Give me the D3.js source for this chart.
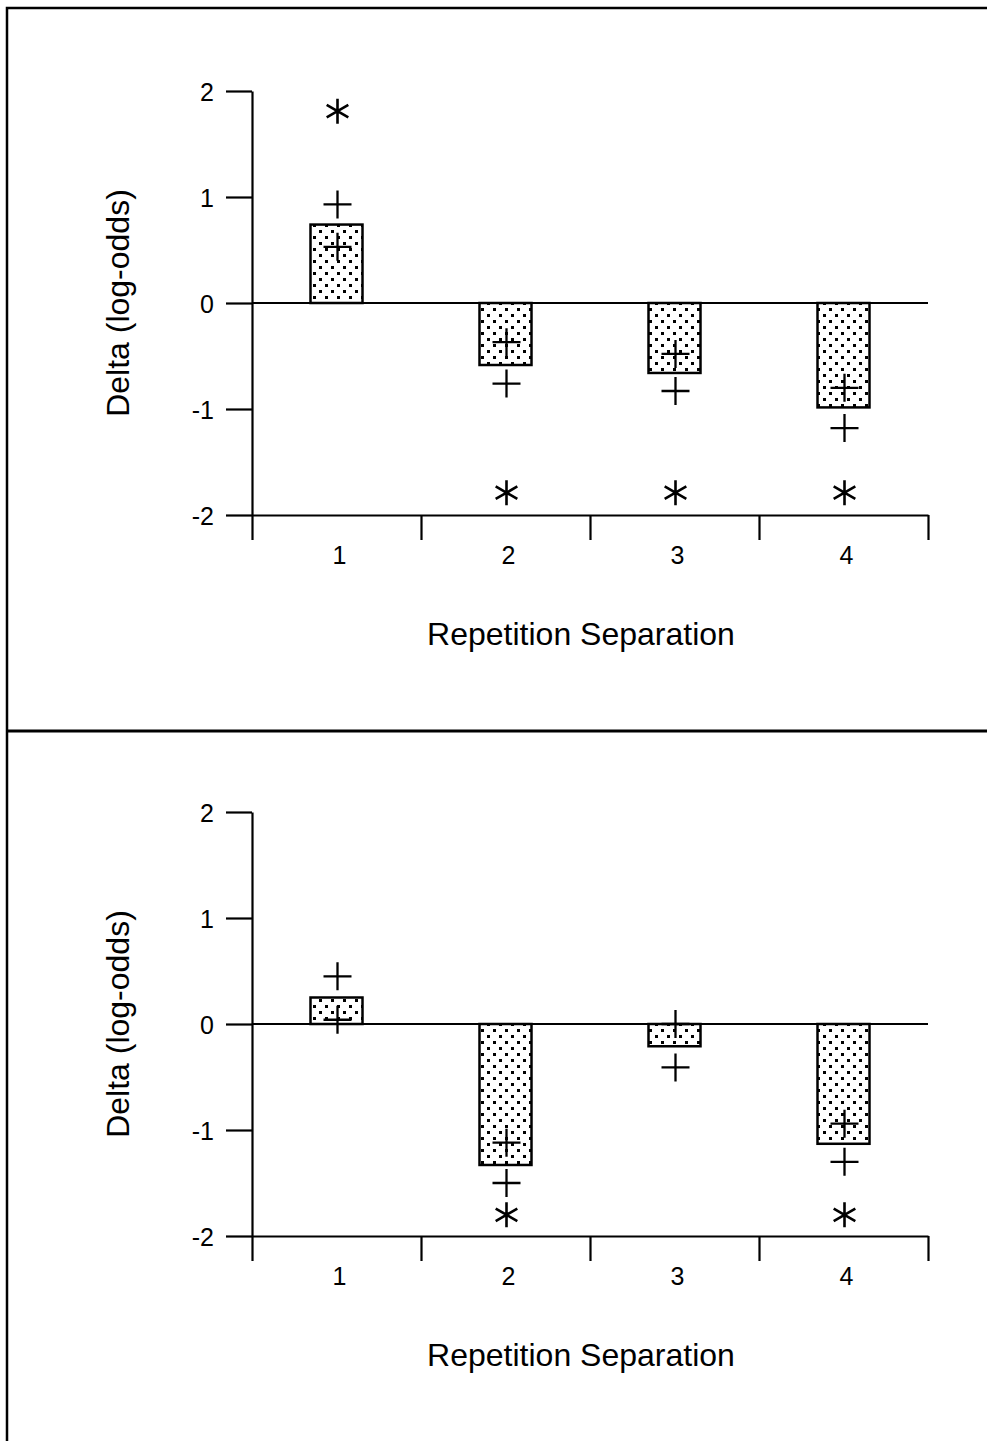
<!DOCTYPE html>
<meta charset="utf-8">
<style>
body { margin: 0; background: #fff; }
text { font-family: "Liberation Sans", Arial, sans-serif; fill: #000; }
.axis path, .axis line { stroke: #000; stroke-width: 2.2px; }
.title { font-size: 32px; }
.bar { fill: url(#dots); stroke: #000; stroke-width: 2.5px; }
.mark { fill: none; stroke: #000; stroke-width: 2.3px; }
.frame { stroke: #000; fill: none; }
</style>
<body>
<script src="https://d3js.org/d3.v7.min.js"></script>
<script>

var categories = [1, 2, 3, 4],
    yTicks = [-2, -1, 0, 1, 2],
    boundaries = [0.5, 1.5, 2.5, 3.5, 4.5];

// top panel
var topBars = [0.74, -0.585, -0.66, -0.985],
    topPlusA = [0.93, -0.37, -0.48, -0.80],
    topPlusB = [0.53, -0.76, -0.83, -1.18],
    topStar = [1.81, -1.79, -1.79, -1.79];

// bottom panel
var botBars = [0.25, -1.33, -0.21, -1.13],
    botPlusA = [0.45, -1.12, 0.0, -0.94],
    botPlusB = [0.04, -1.50, -0.41, -1.30],
    botStar = [null, -1.80, null, -1.80];

var width = 987,
    height = 1441;

var svg = d3.select("body").append("svg")
    .attr("width", width)
    .attr("height", height);

var pat = svg.append("defs").append("pattern")
    .attr("id", "dots")
    .attr("patternUnits", "userSpaceOnUse")
    .attr("width", 12)
    .attr("height", 12);
pat.append("rect").attr("width", 12).attr("height", 12).attr("fill", "#fff");
[[1, 1], [7, 7]].forEach(function(p) {
  pat.append("rect").attr("x", p[0]).attr("y", p[1]).attr("width", 3).attr("height", 3).attr("fill", "#000");
});

// outer frame
svg.append("path").attr("class", "frame").style("stroke-width", 2.5)
    .attr("d", "M7,1441V8H987");
svg.append("line").attr("class", "frame").style("stroke-width", 3)
    .attr("x1", 7).attr("x2", 987).attr("y1", 731).attr("y2", 731);

var x = d3.scaleLinear().domain([0.5, 4.5]).range([252, 928]);
var y = d3.scaleLinear().domain([-2, 2]).range([424, 0]);

var plusPath = "M-14,0H14M0,-14V14";
var starPath = (function() {
  var r = 12.5, s = "";
  [90, 30, 150].forEach(function(a) {
    var dx = r * Math.cos(a * Math.PI / 180), dy = r * Math.sin(a * Math.PI / 180);
    s += "M" + (-dx) + "," + (-dy) + "L" + dx + "," + dy;
  });
  return s;
})();

function panel(offset, bars, plusA, plusB, star) {
  var g = svg.append("g").attr("transform", "translate(0," + offset + ")");

  g.append("g")
      .attr("class", "axis")
      .attr("transform", "translate(252,0)")
      .call(d3.axisLeft(y).tickValues(yTicks).tickSize(26).tickSizeOuter(0).tickPadding(12)
        .tickFormat(function(d) { return String(d); }))
      .call(function(a) {
        a.attr("font-size", 25).attr("font-family", null);
        a.selectAll("text").attr("dy", "0.36em");
      });

  var xa = g.append("g")
      .attr("class", "axis")
      .attr("transform", "translate(0," + y(-2) + ")")
      .call(d3.axisBottom(x).tickValues(boundaries).tickSize(25).tickSizeOuter(0).tickFormat(""));

  xa.selectAll(".cat")
    .data(categories)
    .enter().append("text")
      .attr("class", "cat")
      .attr("x", function(d) { return x(d) + 3; })
      .attr("y", 49)
      .attr("text-anchor", "middle")
      .attr("font-size", 25)
      .text(function(d) { return d; });

  g.selectAll(".bar")
    .data(bars)
    .enter().append("rect")
      .attr("class", "bar")
      .attr("x", function(d, i) { return x(categories[i]) - 26; })
      .attr("width", 52)
      .attr("y", function(d) { return y(Math.max(0, d)); })
      .attr("height", function(d) { return Math.abs(y(d) - y(0)); });

  g.append("line")
      .attr("stroke", "#000").attr("stroke-width", 2.2)
      .attr("x1", x(0.5)).attr("x2", x(4.5))
      .attr("y1", y(0)).attr("y2", y(0));

  [plusA, plusB].forEach(function(vals) {
    g.selectAll(null)
      .data(vals)
      .enter().append("path")
        .attr("class", "mark")
        .attr("transform", function(d, i) { return "translate(" + (x(categories[i]) + 1) + "," + y(d) + ")"; })
        .attr("d", plusPath);
  });

  g.selectAll(null)
    .data(star.map(function(d, i) { return {v: d, c: categories[i]}; }).filter(function(d) { return d.v !== null; }))
    .enter().append("path")
      .attr("class", "mark")
      .style("stroke-width", 2.6)
      .attr("transform", function(d) { return "translate(" + (x(d.c) + 1) + "," + y(d.v) + ")"; })
      .attr("d", starPath);

  g.append("text")
      .attr("class", "title")
      .attr("text-anchor", "middle")
      .attr("transform", "translate(129," + y(0) + ") rotate(-90)")
      .text("Delta (log-odds)");

  g.append("text")
      .attr("class", "title")
      .attr("text-anchor", "middle")
      .attr("x", 581)
      .attr("y", y(-2) + 130)
      .text("Repetition Separation");
}

panel(91, topBars, topPlusA, topPlusB, topStar);
panel(812, botBars, botPlusA, botPlusB, botStar);

</script>
